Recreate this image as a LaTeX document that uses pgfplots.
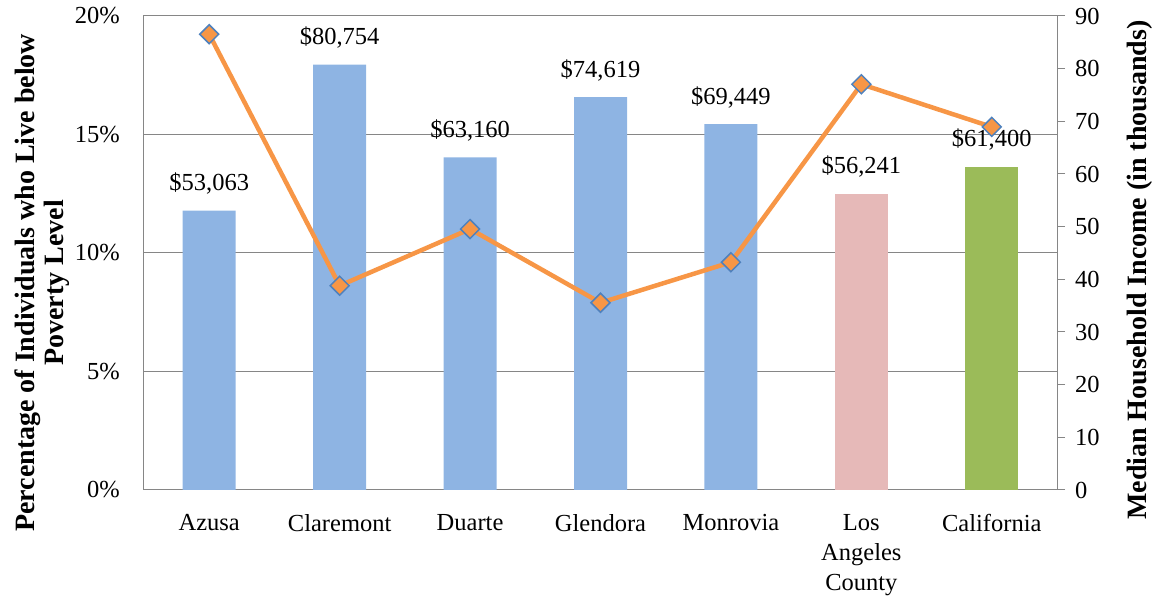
\documentclass[border=0pt]{standalone}
\usepackage{fontspec}
\setmainfont{Liberation Serif}
\usepackage{pgfplots}
\pgfplotsset{compat=1.18}
\usepackage{pgfplotstable}
\definecolor{barblue}{HTML}{8EB4E3}
\definecolor{barpink}{HTML}{E6B9B8}
\definecolor{bargreen}{HTML}{9BBB59}
\definecolor{lineorange}{HTML}{F79646}
\definecolor{markblue}{HTML}{4F81BD}
\definecolor{gridgray}{HTML}{868686}
\newcommand\tickfont{\fontsize{24.5}{30}\selectfont}
\newcommand\titlefont{\fontsize{28}{30}\selectfont\bfseries}

\pgfplotstableread{
x income label
0 53.063 53,063
1 80.754 80,754
2 63.160 63,160
3 74.619 74,619
4 69.449 69,449
}\blueT
\pgfplotstableread{
x income label
5 56.241 56,241
}\pinkT
\pgfplotstableread{
x income label
6 61.400 61,400
}\greenT
\pgfplotstableread{
x poverty
0 19.23
1 8.62
2 11.01
3 7.90
4 9.61
5 17.12
6 15.32
}\povT

\pgfplotsset{base/.style={scale only axis, width=913pt, height=474pt,
  xmin=-0.5, xmax=6.5,
  /pgf/number format/assume math mode=true,
  tick label style={font=\tickfont}}}

\begin{document}
\begin{tikzpicture}
\path[use as bounding box] (-144pt,-111pt) rectangle (1011pt,490pt);
% left axis, grid, category labels
\begin{axis}[base, ymin=0, ymax=20, ytick={0,5,10,15,20},
  yticklabel={\pgfmathprintnumber{\tick}\%},
  ymajorgrids, grid style={gridgray, line width=1pt},
  axis line style={gridgray, line width=1pt},
  major tick length=0pt, clip=false,
  xtick={0,...,6},
  xticklabels={Azusa, Claremont, Duarte, Glendora, Monrovia, {Los\\Angeles\\County}, California},
  xticklabel style={align=center, anchor=north, inner sep=0pt, yshift=-24pt},
  yticklabel style={anchor=east, inner sep=0pt, xshift=-24pt}]
\node[rotate=90, font=\titlefont] at (axis description cs:-0.127,0.437) {Percentage of Individuals who Live below};
\node[rotate=90, font=\titlefont] at (axis description cs:-0.095,0.437) {Poverty Level};
\end{axis}
% right axis with bars
\begin{axis}[base, ymin=0, ymax=90, axis y line*=right, axis x line=none,
  ytick={0,10,...,90}, tick align=outside, major tick length=8pt,
  every tick/.style={gridgray, line width=1pt},
  axis line style={gridgray, line width=1pt},
  yticklabel={\pgfmathprintnumber{\tick}},
  yticklabel style={anchor=west, inner sep=0pt, xshift=10pt},
  ybar, bar width=53pt,
  nodes near coords={\$\pgfplotspointmeta},
  nodes near coords style={font=\tickfont, anchor=base, inner sep=0pt, yshift=20pt},
  clip=false]
\addplot[fill=barblue, draw=none, bar shift=0pt, point meta=explicit symbolic] table[x=x, y=income, meta=label]{\blueT};
\addplot[fill=barpink, draw=none, bar shift=0pt, point meta=explicit symbolic] table[x=x, y=income, meta=label]{\pinkT};
\addplot[fill=bargreen, draw=none, bar shift=0pt, point meta=explicit symbolic] table[x=x, y=income, meta=label]{\greenT};
\node[rotate=90, font=\titlefont] at (axis description cs:1.091,0.464) {Median Household Income (in thousands)};
\end{axis}
% poverty line
\begin{axis}[base, ymin=0, ymax=20, hide axis, clip=false]
\addplot[lineorange, line width=4.5pt, mark=square*, mark size=6.7pt,
  mark options={rotate=45, fill=lineorange, draw=markblue, line width=1.5pt}]
  table[x=x, y=poverty]{\povT};
\end{axis}
\end{tikzpicture}
\end{document}
